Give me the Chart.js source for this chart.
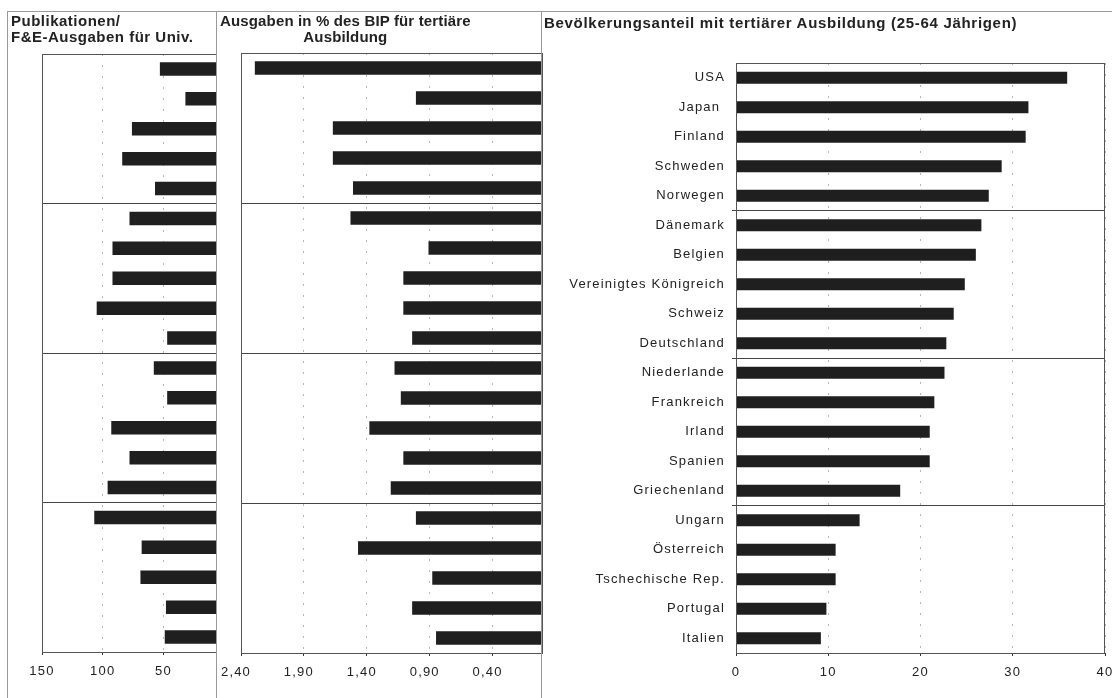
<!DOCTYPE html>
<html><head><meta charset="utf-8">
<script src="https://cdn.jsdelivr.net/npm/chart.js@4.4.1/dist/chart.umd.min.js"></script>
<style>
html,body{margin:0;padding:0;background:#fff;}
body{width:1112px;height:698px;position:relative;overflow:hidden;font-family:"Liberation Sans",Arial,sans-serif;}
.ln{position:absolute;background:#9a9a9a;}
.ttl{position:absolute;font-weight:bold;font-size:15px;line-height:16px;letter-spacing:0.7px;color:#222;white-space:nowrap;}
canvas{position:absolute;top:0;}
</style></head><body>
<canvas id="c1" width="209" height="698" style="left:8px"></canvas>
<canvas id="c2" width="326" height="698" style="left:217px"></canvas>
<canvas id="c3" width="571" height="698" style="left:541px"></canvas>
<div class="ln" style="left:7px;top:11px;width:1105px;height:1px"></div>
<div class="ln" style="left:7px;top:11px;width:1px;height:687px"></div>
<div class="ln" style="left:216px;top:11px;width:1px;height:687px"></div>
<div class="ln" style="left:541px;top:11px;width:1px;height:687px"></div>
<div class="ttl" style="left:11px;top:13px;letter-spacing:0.5px">Publikationen/<br>F&amp;E-Ausgaben für Univ.</div>
<div class="ttl" style="left:220px;top:13px;text-align:center;letter-spacing:0.15px">Ausgaben in % des BIP für tertiäre<br>Ausbildung</div>
<div class="ttl" style="left:544px;top:15px">Bevölkerungsanteil mit tertiärer Ausbildung (25-64 Jährigen)</div>
<script>
// ---- data ----
const countries = ['USA','Japan ','Finland','Schweden','Norwegen','Dänemark','Belgien','Vereinigtes Königreich','Schweiz','Deutschland','Niederlande','Frankreich','Irland','Spanien','Griechenland','Ungarn','Österreich','Tschechische Rep.','Portugal','Italien'];
const pubPerRD = [53, 32, 76, 84, 57, 78, 92, 92, 105, 47, 58, 47, 93, 78, 96, 107, 68, 69, 48, 49];
const spendingGDP = [2.29, 1.01, 1.67, 1.67, 1.51, 1.53, 0.91, 1.11, 1.11, 1.04, 1.18, 1.13, 1.38, 1.11, 1.21, 1.01, 1.47, 0.88, 1.04, 0.85];
const tertiaryShare = [35.9, 31.7, 31.4, 28.8, 27.4, 26.6, 26.0, 24.8, 23.6, 22.8, 22.6, 21.5, 21.0, 21.0, 17.8, 13.4, 10.8, 10.8, 9.8, 9.2];
const pubTicks = [150, 100, 50];
const pubTickLabels = ['150', '100', '50'];
const gdpTicks = [2.4, 1.9, 1.4, 0.9, 0.4];
const gdpTickLabels = ['2,40', '1,90', '1,40', '0,90', '0,40'];
const shareTicks = [0, 10, 20, 30, 40];
const shareTickLabels = ['0', '10', '20', '30', '40'];
const groupBreaks = [5, 10, 15];

// ---- styling ----
const FAM = "'Liberation Sans', Arial, sans-serif";
const TXT = '#222';
const BAR = '#1f1f1f';

const framePlugin = {
  id: 'frame',
  beforeLayout(chart) { chart.ctx.letterSpacing = '1.2px'; },
  beforeDraw(chart) { chart.ctx.letterSpacing = '1.2px'; },
  afterDatasetsDraw(chart) {
    const ctx = chart.ctx, a = chart.chartArea;
    ctx.save();
    ctx.strokeStyle = '#555';
    ctx.lineWidth = 1;
    ctx.strokeRect(Math.round(a.left) + 0.5, Math.round(a.top) + 0.5,
      Math.round(a.right - a.left) - 1, Math.round(a.bottom - a.top));
    ctx.restore();
  }
};

function xAxis(o) {
  return {
    type: 'linear', position: 'bottom', reverse: o.reverse, min: o.min, max: o.max,
    afterBuildTicks(s) { s.ticks = o.ticks.map(v => ({ value: v })); },
    afterFit(s) { s.height = o.height; s.paddingLeft = 0; s.paddingRight = 0; },
    ticks: {
      font: { family: FAM, size: 13 }, color: TXT, padding: 9, maxRotation: 0, autoSkip: false,
      labelOffset: o.labelOffset || 0,
      callback: (v) => { const i = o.ticks.indexOf(v); return i >= 0 ? o.labels[i] : ''; }
    },
    grid: { color: '#b5b5b5', lineWidth: 1, tickLength: 3, tickColor: '#333', drawTicks: true },
    border: { display: true, color: '#333', width: 1, dash: [2, 9] }
  };
}

function makeChart(id, data, xopts, yopts, padding, barPct) {
  return new Chart(document.getElementById(id), {
    type: 'bar',
    data: { labels: countries, datasets: [{ data: data, backgroundColor: BAR, borderWidth: 0, barPercentage: barPct, categoryPercentage: 1, clip: 0 }] },
    options: {
      indexAxis: 'y', responsive: false, animation: false, devicePixelRatio: 1,
      layout: { padding: padding },
      plugins: { legend: { display: false }, tooltip: { enabled: false }, title: { display: false } },
      scales: { x: xAxis(xopts), y: yopts }
    },
    plugins: [framePlugin]
  });
}

function yHidden() {
  return {
    type: 'category', position: 'left',
    ticks: { display: false },
    afterFit(s) { s.width = 0; },
    grid: { offset: true, drawTicks: false, lineWidth: 1,
      color: (c) => groupBreaks.includes(c.index) ? '#444' : 'rgba(0,0,0,0)' },
    border: { display: true, color: '#555', width: 1 }
  };
}

makeChart('c1', pubPerRD,
  { reverse: true, min: 6, max: 150, ticks: pubTicks, labels: pubTickLabels, height: 46 },
  yHidden(), { left: 34, right: 0, top: 54, bottom: 0 }, 0.45);

makeChart('c2', spendingGDP,
  { reverse: true, min: 0, max: 2.4, ticks: gdpTicks, labels: gdpTickLabels, height: 45, labelOffset: -5 },
  yHidden(), { left: 24, right: 0, top: 53, bottom: 0 }, 0.45);

makeChart('c3', tertiaryShare,
  { reverse: false, min: 0, max: 40, ticks: shareTicks, labels: shareTickLabels, height: 45 },
  {
    type: 'category', position: 'left',
    afterFit(s) { s.width = 195; },
    ticks: { font: { family: FAM, size: 13 }, color: TXT, padding: 7, autoSkip: false, crossAlign: 'near' },
    grid: { offset: true, drawTicks: true, tickLength: 4, lineWidth: 1,
      color: (c) => (groupBreaks.includes(c.index) || c.index === countries.length) ? '#444' : 'rgba(0,0,0,0)' },
    border: { display: true, color: '#444', width: 1 }
  }, { left: 0, right: 7, top: 63, bottom: 0 }, 0.41);
</script>
</body></html>
